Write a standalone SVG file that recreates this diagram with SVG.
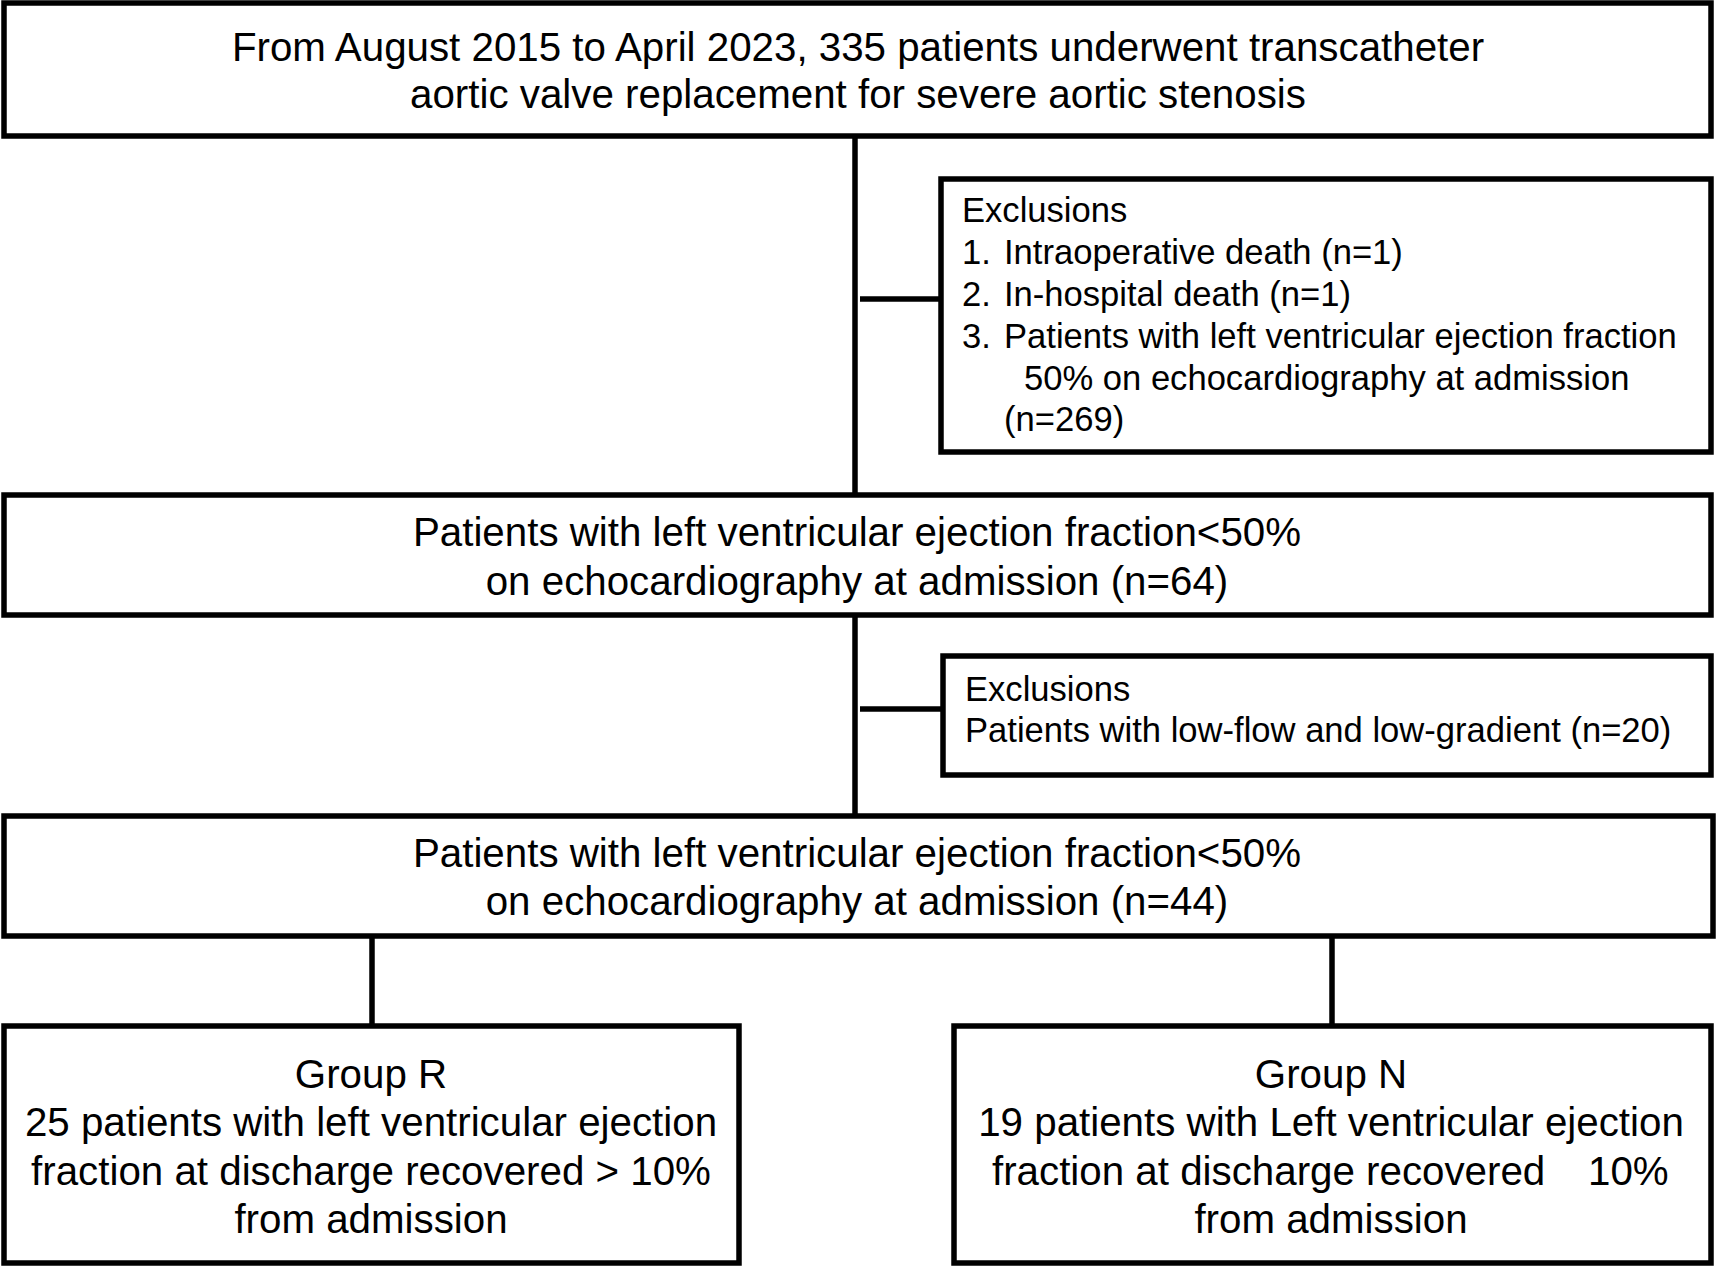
<svg xmlns="http://www.w3.org/2000/svg" width="1717" height="1267" viewBox="0 0 1717 1267">
<style>
.box{fill:#fff;stroke:#000;stroke-width:5.5}
.ln{stroke:#000;stroke-width:5.5;fill:none}
.t{font-family:"Liberation Sans",Arial,sans-serif;font-size:40.3px;fill:#000}
.c{text-anchor:middle}
.s{font-family:"Liberation Sans",Arial,sans-serif;font-size:34.6px;fill:#000}
</style>
<rect width="1717" height="1267" fill="#fff"/>
<g id="connectors">
<line class="ln" x1="855" y1="136" x2="855" y2="495"/>
<line class="ln" x1="860" y1="299" x2="941" y2="299"/>
<line class="ln" x1="855" y1="615" x2="855" y2="816"/>
<line class="ln" x1="860" y1="709" x2="943" y2="709"/>
<line class="ln" x1="372" y1="936" x2="372" y2="1026"/>
<line class="ln" x1="1332" y1="933" x2="1332" y2="1026"/>
</g>
<g id="start">
<rect class="box" x="4" y="3" width="1707" height="133"/>
<text class="t c" x="858" y="61">From August 2015 to April 2023, 335 patients underwent transcatheter</text>
<text class="t c" x="858" y="108">aortic valve replacement for severe aortic stenosis</text>
</g>
<g id="excl1">
<rect class="box" x="941" y="179" width="770" height="273"/>
<text class="s" x="962" y="222">Exclusions</text>
<text class="s" x="962" y="264">1.</text><text class="s" x="1004" y="264">Intraoperative death (n=1)</text>
<text class="s" x="962" y="306">2.</text><text class="s" x="1004" y="306">In-hospital death (n=1)</text>
<text class="s" x="962" y="348">3.</text><text class="s" x="1004" y="348">Patients with left ventricular ejection fraction</text>
<text class="s" x="1024" y="390">50% on echocardiography at admission</text>
<text class="s" x="1004" y="431">(n=269)</text>
</g>
<g id="lvef64">
<rect class="box" x="4" y="495" width="1707" height="120"/>
<text class="t c" x="857" y="546">Patients with left ventricular ejection fraction&lt;50%</text>
<text class="t c" x="857" y="595">on echocardiography at admission (n=64)</text>
</g>
<g id="excl2">
<rect class="box" x="943" y="656" width="768" height="119"/>
<text class="s" x="965" y="701">Exclusions</text>
<text class="s" x="965" y="742">Patients with low-flow and low-gradient (n=20)</text>
</g>
<g id="lvef44">
<rect class="box" x="4" y="816" width="1709" height="120"/>
<text class="t c" x="857" y="867">Patients with left ventricular ejection fraction&lt;50%</text>
<text class="t c" x="857" y="915">on echocardiography at admission (n=44)</text>
</g>
<g id="groupR">
<rect class="box" x="4" y="1026" width="735" height="237"/>
<text class="t c" x="371" y="1088">Group R</text>
<text class="t c" x="371" y="1136">25 patients with left ventricular ejection</text>
<text class="t c" x="371" y="1185">fraction at discharge recovered &gt; 10%</text>
<text class="t c" x="371" y="1233">from admission</text>
</g>
<g id="groupN">
<rect class="box" x="954" y="1026" width="757" height="237"/>
<text class="t c" x="1331" y="1088">Group N</text>
<text class="t c" x="1331" y="1136">19 patients with Left ventricular ejection</text>
<text class="t" x="992" y="1185">fraction at discharge recovered</text>
<text class="t" x="1588" y="1185">10%</text>
<text class="t c" x="1331" y="1233">from admission</text>
</g>
</svg>
